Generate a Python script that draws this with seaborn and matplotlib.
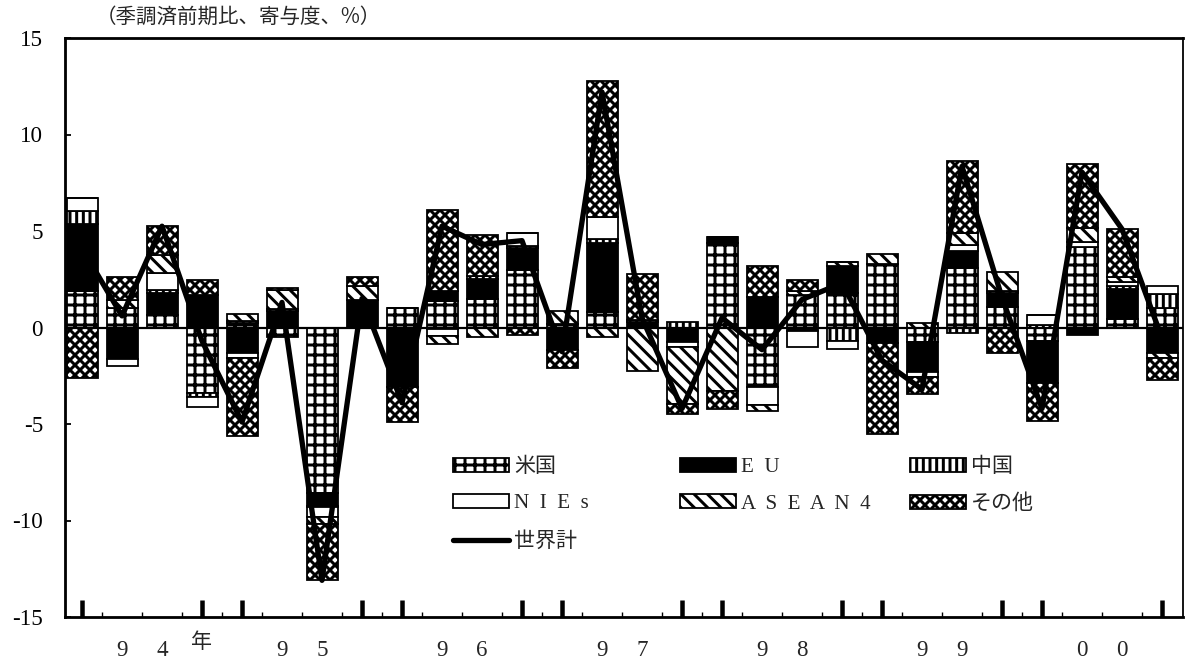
import numpy as np
import matplotlib
matplotlib.use("Agg")
import matplotlib.pyplot as plt
from matplotlib.patches import Patch
from matplotlib.lines import Line2D
import seaborn as sns

# Quarterly contributions to export growth (seasonally adjusted, q/q, % points), 1994Q1-2000Q4
years = ["94", "95", "96", "97", "98", "99", "00"]
y_ticks = [-15, -10, -5, 0, 5, 10, 15]
y_tick_labels = ["-15", "-10", "-5", "0", "5", "10", "15"]

us = [1.9, 1.0, 0.66, -3.4, 0.25, -0.5, -8.6, 0.0, 1.0, 1.36, 1.5, 3.0, 0.2, 0.78,
      0.0, 0.0, 4.4, -3.1, 1.7, 1.8, 3.3, -0.75, 3.1, 1.05, -0.7, 4.15, 0.45, 1.0]
eu = [3.45, -1.65, 1.12, 1.7, -1.3, 0.85, -0.65, 1.45, -3.1, 0.52, 1.0, 1.1, -1.15, 3.62,
      0.3, -0.75, 0.3, 1.6, -0.2, 1.4, -0.8, -1.55, 0.85, 0.75, -2.15, -0.4, 1.55, -1.3]
china = [0.7, 0.0, 0.17, -0.2, 0.1, 0.1, -0.05, 0.0, 0.0, -0.1, 0.15, 0.1, 0.0, 0.16,
         0.1, 0.3, 0.0, 0.0, 0.0, -0.7, 0.0, 0.0, -0.3, 0.1, 0.15, 0.0, 0.15, 0.75]
nies = [0.65, -0.35, 0.85, -0.5, -0.3, 0.0, -0.5, 0.0, 0.0, -0.35, 0.0, 0.7, 0.0, 1.14,
        0.0, -0.25, 0.0, -0.9, -0.8, -0.4, 0.0, -0.25, 0.35, 0.0, 0.5, 0.3, 0.2, 0.4]
asean4 = [0.0, 0.45, 0.98, 0.0, 0.35, 1.0, -0.4, 0.7, 0.0, -0.4, -0.5, 0.0, 0.65, -0.5,
          -2.25, -2.95, -3.3, -0.35, 0.2, 0.2, 0.5, 0.25, 0.6, 0.95, 0.0, 0.7, 0.25, -0.3]
others = [-2.6, 1.15, 1.47, 0.75, -4.0, 0.1, -2.9, 0.45, -1.8, 4.22, 2.15, -0.4, -0.95, 7.06,
          2.35, -0.55, -0.9, 1.6, 0.55, 0.0, -4.7, -0.9, 3.75, -1.3, -2.0, 3.3, 2.5, -1.1]
world = [4.1, 0.6, 5.25, -0.7, -4.9, 1.3, -13.1, 1.5, -3.9, 5.25, 4.3, 4.5, -1.25, 12.2,
         0.5, -4.2, 0.5, -1.15, 1.45, 2.3, -1.7, -3.2, 8.35, 1.55, -4.2, 8.05, 5.1, -0.55]

DPI = 120


def pt(px):
    """Convert a size in output pixels to points."""
    return px * 72.0 / DPI


sns.set_theme(style="white")
plt.rcParams["font.family"] = ["Noto Sans CJK JP", "DejaVu Sans"]
plt.rcParams["axes.unicode_minus"] = False
plt.rcParams["hatch.linewidth"] = pt(3.0)
plt.rcParams["hatch.color"] = "black"

SERIF = ["Liberation Serif", "DejaVu Serif"]
CJK = ["Noto Sans CJK JP", "DejaVu Sans"]

W, H = 1185, 665
fig = plt.figure(figsize=(W / DPI, H / DPI), dpi=DPI)
fig.patch.set_facecolor("white")
ax = fig.add_axes([65 / W, 1 - 617 / H, (1183 - 65) / W, (617 - 38) / H])
ax.set_facecolor("white")

styles = {
    "us": dict(facecolor="white", hatch="++"),
    "eu": dict(facecolor="black"),
    "china": dict(facecolor="white", hatch="|||"),
    "nies": dict(facecolor="white"),
    "asean4": dict(facecolor="white", hatch="\\\\\\"),
    "others": dict(facecolor="white", hatch="xxxx"),
}
layers = [("us", us), ("eu", eu), ("china", china),
          ("nies", nies), ("asean4", asean4), ("others", others)]

x = np.arange(len(world))
bar_w = 0.775
pos_base = np.zeros(len(x))
neg_base = np.zeros(len(x))
for key, vals in layers:
    v = np.asarray(vals, dtype=float)
    bottom = np.where(v >= 0, pos_base, neg_base)
    ax.bar(x, v, width=bar_w, bottom=bottom, edgecolor="black",
           linewidth=pt(1.8), zorder=2, **styles[key])
    pos_base += np.clip(v, 0, None)
    neg_base += np.clip(v, None, 0)

ax.axhline(0, color="black", linewidth=pt(2.2), zorder=3)

sns.lineplot(x=x, y=world, color="black", linewidth=pt(5.3), ax=ax, zorder=4,
             legend=False, solid_joinstyle="round")

ax.set_xlim(-0.425, 27.525)
ax.set_ylim(-15, 15)
ax.set_yticks(y_ticks)
ax.set_yticklabels(y_tick_labels, fontfamily=SERIF, fontsize=pt(23))
ax.tick_params(axis="y", direction="in", length=pt(6), width=pt(1.8), pad=pt(22),
               left=True, colors="black")

# year-edge ticks (first and last quarter of each year), small ticks between bars
edge_ticks = [q for i in range(len(years)) for q in (4 * i, 4 * i + 3)]
ax.set_xticks(edge_ticks)
ax.set_xticklabels([])
ax.set_xticks(np.arange(0.5, 27.0, 1.0), minor=True)
ax.tick_params(axis="x", which="major", direction="in", length=pt(17), width=pt(4.5),
               bottom=True, colors="black")
ax.tick_params(axis="x", which="minor", direction="in", length=pt(5.5), width=pt(1.4),
               bottom=True, colors="black")

for s in ax.spines.values():
    s.set_visible(True)
    s.set_color("black")
    s.set_linewidth(pt(2.8))
ax.spines["right"].set_linewidth(pt(1.8))
ax.grid(False)

# year labels: digits under the 2nd and 3rd quarter of each year
xt = ax.get_xaxis_transform()
for i, yr in enumerate(years):
    for k in range(2):
        ax.text(4 * i + 1 + k, -0.058, yr[k], transform=xt, ha="center", va="center",
                fontfamily=SERIF, fontsize=pt(23))
ax.text(3, -0.043, "年", transform=xt, ha="center", va="center",
        fontfamily=CJK, fontsize=pt(21))

fig.text(96 / W, 1 - 17 / H, "（季調済前期比、寄与度、%）", ha="left", va="center",
         fontfamily=CJK, fontsize=pt(20.5))


# legend in three columns
def patch(key):
    return Patch(edgecolor="black", linewidth=pt(1.8), **styles[key])


world_handle = Line2D([], [], color="black", linewidth=pt(5.3))
FS = pt(21)
columns = [
    (453, 455, 0.80, [patch("us"), patch("nies"), world_handle],
     ["米国", "N  I  E  s", "世界計"]),
    (680, 458, 0.80, [patch("eu"), patch("asean4")], ["E  U", "A  S  E  A  N  4"]),
    (910, 455, 0.71, [patch("china"), patch("others")], ["中国", "その他"]),
]
legends = []
for left, top, spacing, handles, labels in columns:
    leg = ax.legend(handles=handles, labels=labels, loc="upper left",
                    bbox_to_anchor=(left / W, 1 - top / H), bbox_transform=fig.transFigure,
                    frameon=False, fontsize=FS, handlelength=2.65, handleheight=0.65,
                    handletextpad=0.25, labelspacing=spacing, borderpad=0, borderaxespad=0)
    for t in leg.get_texts():
        if t.get_text()[0].isascii():
            t.set_fontfamily(SERIF)
        else:
            t.set_fontfamily(CJK)
    legends.append(leg)
for leg in legends[:-1]:
    ax.add_artist(leg)

fig.savefig("out.png", dpi=DPI, facecolor="white")
